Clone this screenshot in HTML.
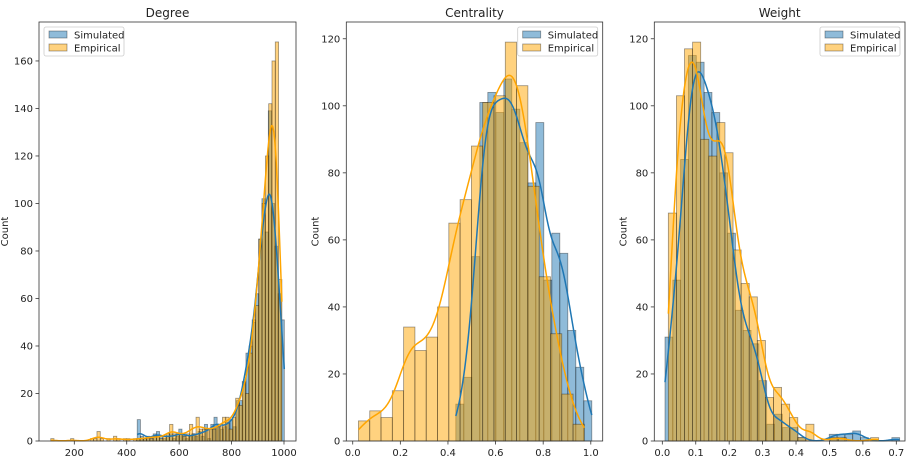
<!DOCTYPE html>
<html><head><meta charset="utf-8">
<style>
html,body{margin:0;padding:0;background:#fff;}
svg{display:block;font-family:"DejaVu Sans","Liberation Sans",sans-serif;}
</style></head>
<body>
<svg id="chart" width="915" height="471" viewBox="0 0 915 471" xmlns="http://www.w3.org/2000/svg"></svg>
<script>
// ---- Degree data ----
const degreeEmpStart = 110, degreeEmpWidth = 12.6;
const degreeEmpCounts = [1,0,0,0,0,0,1,0,0,0, 0,0,1,1,4,1,0,1,0,2, 1,0,1,1,0,1,1,1,1,2, 1,2,2,1,2,3,7,3,3,3, 2,3,7,3,10,5,5,5,5,5, 6,6,10,10,5,10,18,15,25,20, 37,51,57,85,100,120,142,160,168,68];
const degreeSimStart = 440, degreeSimWidth = 12.2;
const degreeSimCounts = [9,2,1,1,1,3,4,2,1,2,3,1,2,5,3,1,2,3,2,4,2,7,1,7,10,7,5,6,8,9,6,17,17,25,37,40,50,62,85,102,88,139,100,82,62,51];
const degreeXTicks = [200,400,600,800,1000];
const degreeYTicks = [0,20,40,60,80,100,120,140,160];
// ---- Centrality data ----
const centEmpStart = 0.024, centEmpWidth = 0.04745;
const centEmpCounts = [6,9,7,15,34,27,31,40,65,72,88,101,103,119,106,76,49,32,14,5];
const centSimStart = 0.433, centSimWidth = 0.0336;
const centSimCounts = [11,19,55,101,104,98,108,99,89,77,95,48,62,56,33,22,12];
const centXTicks = [0.0,0.2,0.4,0.6,0.8,1.0];
const centYTicks = [0,20,40,60,80,100,120];
// ---- Weight data ----
const wEmpStart = 0.018, wEmpWidth = 0.0242;
const wEmpCounts = [68,103,117,119,90,85,95,86,57,47,43,30,13,16,11,7,1,5,0,0,1,1,0,0,0,1];
const wSimStart = 0.008, wSimWidth = 0.0234;
const wSimCounts = [31,48,84,115,113,104,98,80,62,39,33,29,18,5,8,4,4,1,0,0,0,2,2,2,3,1,0,0,0,1];
const wXTicks = [0.0,0.1,0.2,0.3,0.4,0.5,0.6,0.7];
const wYTicks = [0,20,40,60,80,100,120];

const NS = "http://www.w3.org/2000/svg";
const svg = document.getElementById('chart');
function mk(tag, attrs, parent){ const e=document.createElementNS(NS,tag); for(const k in attrs) e.setAttribute(k,attrs[k]); (parent||svg).appendChild(e); return e; }

const BLUE="#1f77b4", ORANGE="#ffa500";

function panel(cfg){
  const g = mk('g',{});
  
  
  const sx = v => cfg.L + (v-cfg.xmin)/(cfg.xmax-cfg.xmin)*(cfg.R-cfg.L);
  const sy = v => cfg.B - v/cfg.ymax*(cfg.B-cfg.T);
  function bars(start,w,counts,color,label){
    const bg = mk('g',{},g);
    
    
    counts.forEach((c,i)=>{
      if(c<=0) return;
      const x0=sx(start+i*w), x1=sx(start+(i+1)*w);
      const r = mk('rect',{x:x0,y:sy(c),width:Math.max(0,x1-x0),height:sy(0)-sy(c),fill:color,'fill-opacity':0.5,stroke:'#000','stroke-opacity':0.4,'stroke-width':0.8},bg);
      
      
    });
  }
  function kde(start,w,counts,h,color,label){
    const lo=start, hi=start+counts.length*w;
    let pts=[];
    for(let k=0;k<=200;k++){
      const x=lo+(hi-lo)*k/200; let d=0;
      counts.forEach((c,i)=>{const m=start+(i+0.5)*w; const z=(x-m)/h; d+=c*Math.exp(-0.5*z*z);});
      d = d*w/(h*Math.sqrt(2*Math.PI));
      pts.push(sx(x).toFixed(2)+','+sy(d).toFixed(2));
    }
    const p=mk('polyline',{points:pts.join(' '),fill:'none',stroke:color,'stroke-width':1.5},g);
    
    
  }
  bars(cfg.simStart,cfg.simW,cfg.simC,BLUE,'simulated');
  bars(cfg.empStart,cfg.empW,cfg.empC,ORANGE,'empirical');
  kde(cfg.simStart,cfg.simW,cfg.simC,cfg.hSim,BLUE,'simulated');
  kde(cfg.empStart,cfg.empW,cfg.empC,cfg.hEmp,ORANGE,'empirical');
  const f=mk('rect',{x:cfg.L,y:cfg.T,width:cfg.R-cfg.L,height:cfg.B-cfg.T,fill:'none',stroke:'#333','stroke-width':0.8},g);
  
  
  cfg.xt.forEach(v=>{
    const x=sx(v);
    mk('line',{x1:x,x2:x,y1:cfg.B,y2:cfg.B+3.5,stroke:'#333','stroke-width':0.8},g);
    const t=mk('text',{x:x,y:cfg.B+15,'font-size':10,'text-anchor':'middle',fill:'#222'},g);
    t.textContent=cfg.fmt(v);
    
    
  });
  cfg.yt.forEach(v=>{
    const y=sy(v);
    mk('line',{x1:cfg.L-3.5,x2:cfg.L,y1:y,y2:y,stroke:'#333','stroke-width':0.8},g);
    const t=mk('text',{x:cfg.L-6,y:y+3.5,'font-size':10,'text-anchor':'end',fill:'#222'},g);
    t.textContent=v;
    
    
  });
  const yl=mk('text',{x:0,y:0,'font-size':10,'text-anchor':'middle',fill:'#222',transform:`translate(${cfg.L-cfg.ylOff},${(cfg.T+cfg.B)/2}) rotate(-90)`},g);
  yl.textContent='Count';
  
  
  const tt=mk('text',{x:(cfg.L+cfg.R)/2,y:17,'font-size':12,'text-anchor':'middle',fill:'#222'},g);
  tt.textContent=cfg.title;
  
  
  const lw=80, lh=29;
  const lx = cfg.legLeft ? cfg.L+5 : cfg.R-5-lw, ly=cfg.T+5;
  const lg=mk('g',{},g);
  
  
  mk('rect',{x:lx,y:ly,width:lw,height:lh,rx:2,fill:'#fff','fill-opacity':0.8,stroke:'#ccc','stroke-width':0.8},lg);
  [['Simulated',BLUE],['Empirical',ORANGE]].forEach((e,i)=>{
    const en=mk('g',{},lg);
    
    
    mk('rect',{x:lx+5,y:ly+4+i*13,width:18,height:7,fill:e[1],'fill-opacity':0.5,stroke:'#000','stroke-opacity':0.4,'stroke-width':0.8},en);
    const t=mk('text',{x:lx+30,y:ly+11.5+i*13,'font-size':10,fill:'#222'},en);
    t.textContent=e[0];
  });
}

panel({name:'degree',title:'Degree',L:39,R:296,T:22,B:441,xmin:65.3,xmax:1045.8,ymax:176.4,
  empStart:degreeEmpStart,empW:degreeEmpWidth,empC:degreeEmpCounts,
  simStart:degreeSimStart,simW:degreeSimWidth,simC:degreeSimCounts,hEmp:20,hSim:18,
  xt:degreeXTicks,yt:degreeYTicks,fmt:v=>String(v),legLeft:true,ylOff:31});
panel({name:'centrality',title:'Centrality',L:346.3,R:602.7,T:22,B:441,xmin:-0.027,xmax:1.05,ymax:125,
  empStart:centEmpStart,empW:centEmpWidth,empC:centEmpCounts,
  simStart:centSimStart,simW:centSimWidth,simC:centSimCounts,hEmp:0.045,hSim:0.034,
  xt:centXTicks,yt:centYTicks,fmt:v=>v.toFixed(1),legLeft:false,ylOff:28});
panel({name:'weight',title:'Weight',L:654.3,R:905,T:22,B:441,xmin:-0.024,xmax:0.726,ymax:125,
  empStart:wEmpStart,empW:wEmpWidth,empC:wEmpCounts,
  simStart:wSimStart,simW:wSimWidth,simC:wSimCounts,hEmp:0.021,hSim:0.02,
  xt:wXTicks,yt:wYTicks,fmt:v=>v.toFixed(1),legLeft:false,ylOff:28});
</script>
</body></html>
